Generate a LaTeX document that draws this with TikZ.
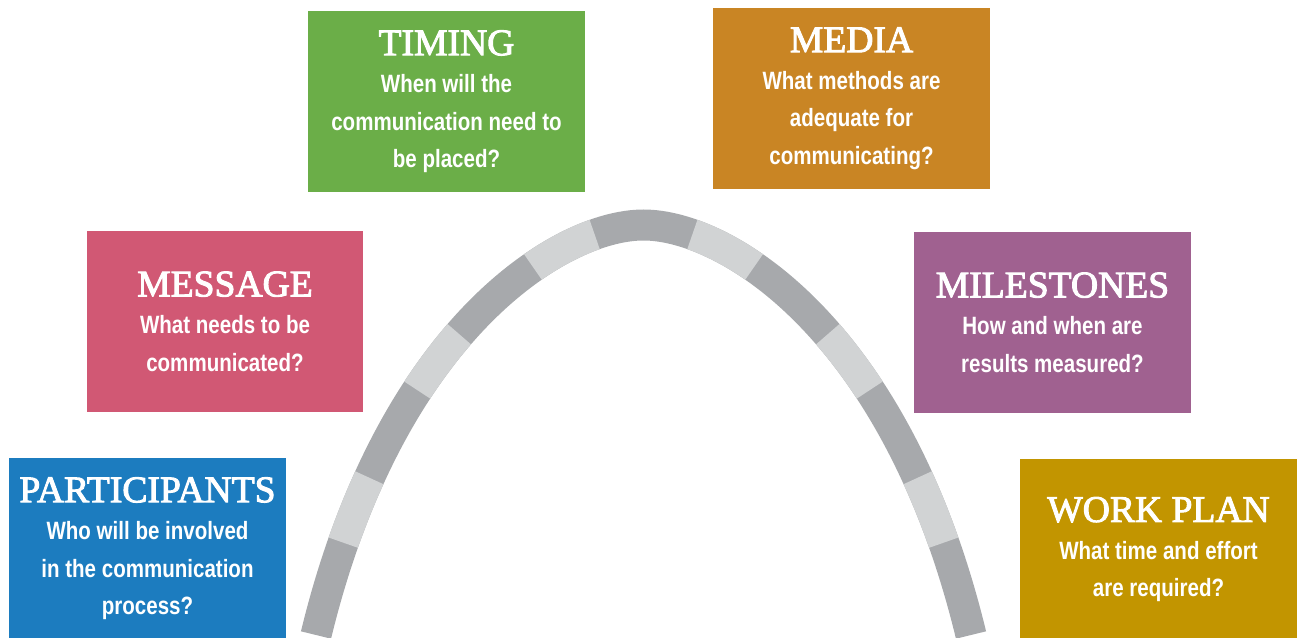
\documentclass[tikz,border=0pt]{standalone}
\usepackage{fontspec}
\usepackage{tikz}
\setmainfont{Liberation Serif}
\newfontfamily\titlefont[FakeBold=2.5]{Liberation Serif}
\newfontfamily\narrowfont[FakeStretch=0.82]{Liberation Sans}
\definecolor{partblue}{HTML}{1C7CBF}
\definecolor{msgpink}{HTML}{D15874}
\definecolor{timegreen}{HTML}{6BAE48}
\definecolor{mediaorange}{HTML}{C98524}
\definecolor{milepurple}{HTML}{A06190}
\definecolor{plangold}{HTML}{C29500}
\definecolor{segdark}{HTML}{A7A9AC}
\definecolor{seglight}{HTML}{D1D3D4}
\newcommand{\cardtitle}[1]{{\titlefont\mdseries\fontsize{21.4}{21.3}\selectfont #1}}

\begin{document}
\begin{tikzpicture}[x=0.02cm, y=-0.02cm,
  card/.style={rectangle, fill=#1, text=white, minimum width=5.54cm, minimum height=3.62cm, inner sep=0pt, align=center, font=\narrowfont\bfseries\fontsize{14.25}{21.3}\selectfont},
  arch/.style={line width=0.62cm, line cap=butt}
]
  \useasboundingbox (0,0) rectangle (1297,638);

  % the arch: one dark band, light pieces laid on it from the top down
  \coordinate (apex) at (643.5,225);
  \coordinate (footL) at (316,635);
  \coordinate (footR) at (971,635);
  \draw[arch, draw=segdark] (footL) .. controls (390,330) and (560,225) .. (apex)
    .. controls (727,225) and (897,330) .. (footR);
  \foreach \ca/\cb/\foot in {560/390/footL, 727/897/footR}{
    \draw[arch, draw=seglight, dash pattern=on 1.4cm off 2cm, dash phase=2.4cm] (apex) .. controls (\ca,225) and (\cb,330) .. (\foot);
  }

  \node[card=partblue] (participants) at (147.5,548.5) {\cardtitle{PARTICIPANTS}\\ Who will be involved\\ in the communication\\ process?};
  \node[card=msgpink] (message) at (225,321.5) {\cardtitle{MESSAGE}\\ What needs to be\\ communicated?};
  \node[card=timegreen] (timing) at (446.5,101.5) {\cardtitle{TIMING}\\ When will the\\ communication need to\\ be placed?};
  \node[card=mediaorange] (media) at (851.5,98.5) {\cardtitle{MEDIA}\\ What methods are\\ adequate for\\ communicating?};
  \node[card=milepurple] (milestones) at (1052.5,322.5) {\cardtitle{MILESTONES}\\ How and when are\\ results measured?};
  \node[card=plangold] (workplan) at (1158.5,549.5) {\cardtitle{WORK PLAN}\\ What time and effort\\ are required?};
\end{tikzpicture}
\end{document}
